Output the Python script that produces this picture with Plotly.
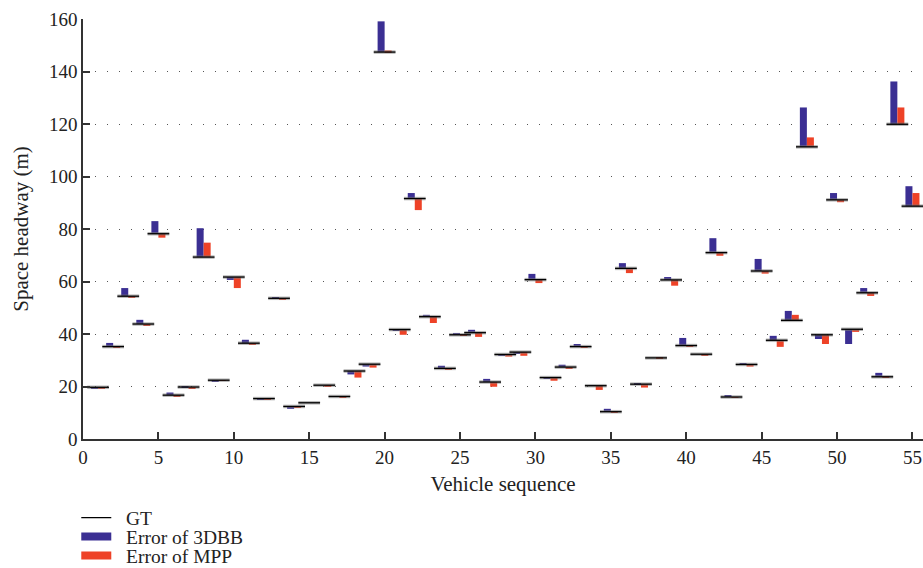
import plotly.graph_objects as go

vehicles = list(range(1, 56))
gt = [19.7, 35.2, 54.4, 43.8, 78.2, 16.7, 19.8, 69.3, 22.4, 61.7,
      36.5, 15.4, 53.6, 12.4, 13.8, 20.5, 16.2, 25.9, 28.5, 147.4,
      41.7, 91.6, 46.6, 26.9, 39.7, 40.5, 21.7, 32.2, 33.1, 60.7,
      23.4, 27.4, 35.2, 20.3, 10.4, 65.0, 20.9, 30.9, 60.6, 35.6,
      32.3, 71.0, 16.0, 28.4, 64.0, 37.6, 45.2, 111.3, 39.7, 91.1,
      41.8, 55.7, 23.7, 119.9, 88.7]
err_3dbb = [-0.6, 1.4, 3.1, 1.6, 4.8, 1.0, 0.2, 11.0, -0.6, -1.1,
            1.3, -0.4, 0.5, -0.9, 0.0, 0.0, 0.0, -1.3, -0.9, 11.7,
            -0.3, 2.1, 0.7, 1.0, 0.7, 1.1, 1.2, -0.3, -0.5, 2.2,
            -0.4, 0.9, 1.0, 0.1, 1.1, 2.0, 0.1, 0.0, 1.1, 2.9,
            0.0, 5.5, 0.5, 0.3, 4.6, 1.7, 3.6, 15.0, -1.6, 2.6,
            -5.6, 1.8, 1.5, 16.3, 7.6]
err_mpp = [-0.6, -0.3, -0.6, -0.6, -1.5, -0.5, -0.7, 5.5, -0.2, -4.2,
           -0.6, -0.4, -0.5, -0.4, 0.0, -0.6, -0.3, -2.5, -1.3, 0.6,
           -2.0, -4.4, -2.4, -0.6, -0.3, -1.6, -1.8, -0.8, -1.4, -1.3,
           -1.2, -0.7, -0.2, -1.6, -0.2, -1.8, -1.3, -0.1, -2.2, -0.4,
           -0.5, -1.2, -0.1, -0.8, -1.0, -2.5, 2.1, 3.6, -3.5, -0.9,
           -1.0, -1.2, -0.2, 6.4, 5.0]
x_ticks = [0, 5, 10, 15, 20, 25, 30, 35, 40, 45, 50, 55]
y_ticks = [0, 20, 40, 60, 80, 100, 120, 140, 160]

BLUE = "#3B2F93"
RED = "#EE4227"
FONT = "Liberation Serif"
TXT = "#222"
bar_w = 0.465
half_gt = 0.72
NB = "\u00a0\u00a0"

fig = go.Figure()
fig.add_trace(go.Bar(x=[v - bar_w / 2 for v in vehicles], y=err_3dbb, base=gt,
                     width=bar_w, marker=dict(color=BLUE, line=dict(width=0)),
                     showlegend=False))
fig.add_trace(go.Bar(x=[v + bar_w / 2 for v in vehicles], y=err_mpp, base=gt,
                     width=bar_w, marker=dict(color=RED, line=dict(width=0)),
                     showlegend=False))

gx, gy = [], []
for v, g in zip(vehicles, gt):
    gx += [v - half_gt, v + half_gt, None]
    gy += [g, g, None]
fig.add_trace(go.Scatter(x=gx, y=gy, mode="lines", line=dict(color="rgba(120,120,120,0.55)", width=3.5),
                         showlegend=False, hoverinfo="skip"))
fig.add_trace(go.Scatter(x=gx, y=gy, mode="lines", line=dict(color="black", width=1.3),
                         name=NB + "GT", legend="legend"))
# legend proxies
fig.add_trace(go.Scatter(x=[None], y=[None], mode="lines", line=dict(color=BLUE, width=8),
                         name=NB + "Error of 3DBB", legend="legend2"))
fig.add_trace(go.Scatter(x=[None], y=[None], mode="lines", line=dict(color=RED, width=8),
                         name=NB + "Error of MPP", legend="legend3"))

def leg(yv):
    return dict(x=-0.008, y=yv, xanchor="left", yanchor="middle",
                font=dict(family=FONT, size=19.5, color=TXT),
                bgcolor="rgba(0,0,0,0)", borderwidth=0)

fig.update_layout(
    width=923, height=568,
    margin=dict(l=83, r=0, t=19, b=129, autoexpand=False),
    plot_bgcolor="white", paper_bgcolor="white",
    barmode="overlay",
    font=dict(family=FONT, size=19, color=TXT),
    legend=leg(-0.188),
    legend2=leg(-0.233),
    legend3=leg(-0.278),
    xaxis=dict(range=[0, 55.7], tickvals=x_ticks, ticks="inside", ticklen=7,
               tickwidth=1.5, tickcolor="#333", showline=True, linecolor="#333",
               linewidth=1.5, showgrid=False, zeroline=False,
               title=dict(text="Vehicle sequence", font=dict(size=21), standoff=10),
               tickfont=dict(size=19)),
    yaxis=dict(range=[0, 160], tickvals=y_ticks, ticks="inside", ticklen=7,
               tickwidth=1.5, tickcolor="#333", showline=True, linecolor="#333",
               linewidth=1.5, showgrid=True, gridcolor="#555", gridwidth=1,
               griddash="1px,11px", zeroline=False,
               title=dict(text="Space headway (m)", font=dict(size=21), standoff=15),
               tickfont=dict(size=19)),
)
fig.write_html("out.html")
